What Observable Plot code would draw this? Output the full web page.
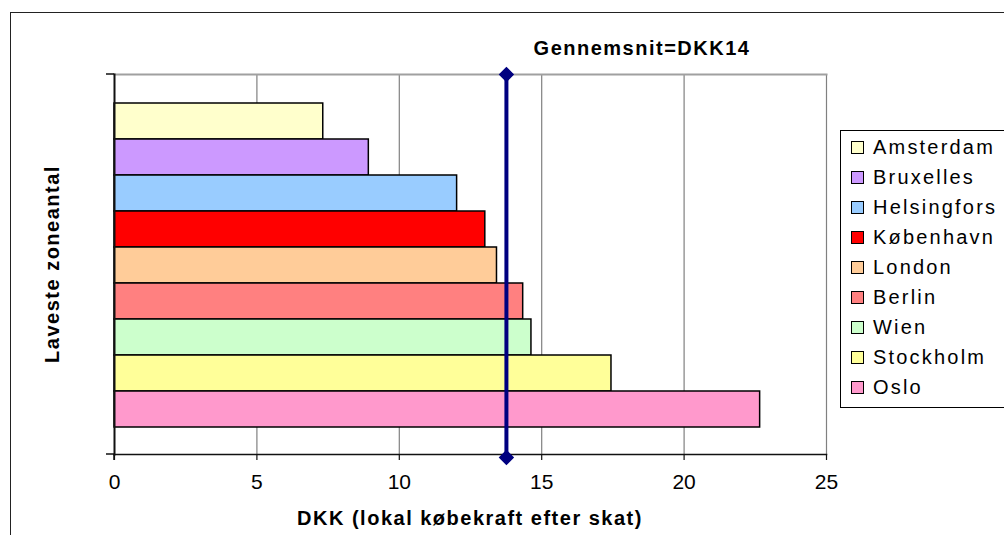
<!DOCTYPE html>
<html>
<head>
<meta charset="utf-8">
<script src="https://cdn.jsdelivr.net/npm/d3@7"></script>
<script src="https://cdn.jsdelivr.net/npm/@observablehq/plot@0.6"></script>
<style>
  html, body { margin: 0; padding: 0; background: #fff; }
  #wrap { position: relative; width: 1004px; height: 535px; overflow: hidden; font-family: "Liberation Sans", Arial, sans-serif; color: #000; }
  #border { position: absolute; left: 10px; top: 12px; width: 2000px; height: 2000px; border-left: 1.5px solid #222; border-top: 1.5px solid #222; box-sizing: border-box; }
  #chart { position: absolute; left: 0; top: 0; }
  .title { position: absolute; font-weight: bold; font-size: 20px; letter-spacing: 1.5px; white-space: nowrap; line-height: 1; }
  #avgTitle { left: 642px; top: 38px; transform: translateX(-50%); }
  #xTitle { left: 470px; top: 508px; transform: translateX(-50%); }
  #yTitle { left: 52px; top: 264px; transform: translate(-50%, -50%) rotate(-90deg); }
  #legend { position: absolute; left: 840px; top: 130px; width: 400px; height: 278px; border: 1.5px solid #000; box-sizing: border-box; background: #fff; padding-top: 1px; }
  .row { height: 30px; display: flex; align-items: center; font-size: 20px; letter-spacing: 2.2px; white-space: nowrap; }
  .sw { width: 11px; height: 11px; border: 1.5px solid #000; margin-left: 10px; margin-right: 9px; flex: none; }
</style>
</head>
<body>
<div id="wrap">
  <div id="border"></div>
  <div id="chart"></div>
  <div id="avgTitle" class="title"></div>
  <div id="xTitle" class="title"></div>
  <div id="yTitle" class="title"></div>
  <div id="legend"></div>
</div>
<script>
const cities = ["Amsterdam", "Bruxelles", "Helsingfors", "København", "London", "Berlin", "Wien", "Stockholm", "Oslo"];
const values = [7.33, 8.93, 12.03, 13.02, 13.43, 14.35, 14.64, 17.45, 22.67];
const colors = ["#FFFFCC", "#CC99FF", "#99CCFF", "#FF0000", "#FFCC99", "#FF8080", "#CCFFCC", "#FFFF99", "#FF99CC"];
const xTicks = [0, 5, 10, 15, 20, 25];
const gridTicks = [5, 10, 15, 20, 25];
const avgLabel = "Gennemsnit=DKK14";
const xLabel = "DKK (lokal købekraft efter skat)";
const yLabel = "Laveste zoneantal";

const data = cities.map((c, i) => ({city: c, value: values[i], color: colors[i]}));
const avg = d3.mean(values);

function categoryTicks(index, scales, vals, dims) {
  const {marginLeft, marginTop, height, marginBottom} = dims;
  const g = d3.create("svg:g").attr("stroke", "#111").attr("stroke-width", 1.5);
  [marginTop, height - marginBottom].forEach(y => {
    g.append("line").attr("x1", marginLeft - 8).attr("x2", marginLeft).attr("y1", y).attr("y2", y);
  });
  g.append("line").attr("x1", marginLeft).attr("x2", marginLeft)
    .attr("y1", height - marginBottom).attr("y2", height - marginBottom + 6);
  return g.node();
}

const chart = Plot.plot({
  width: 1004,
  height: 535,
  marginLeft: 114,
  marginRight: 178,
  marginTop: 74,
  marginBottom: 81,
  style: {fontFamily: "'Liberation Sans', Arial, sans-serif", background: "transparent", overflow: "visible"},
  x: {domain: [0, 25]},
  y: {domain: cities, paddingInner: 0, paddingOuter: 0.736, align: 0.52, axis: null},
  marks: [
    Plot.ruleX(gridTicks, {stroke: "#808080", strokeWidth: 1.2}),
    Plot.frame({anchor: "top", stroke: "#a0a0a0", strokeWidth: 2}),
    Plot.barX(data, {x: "value", y: "city", fill: "color", stroke: "#000", strokeWidth: 1.5}),
    Plot.frame({anchor: "left", stroke: "#111", strokeWidth: 2}),
    Plot.frame({anchor: "bottom", stroke: "#111", strokeWidth: 1.5}),
    categoryTicks,
    Plot.axisX({ticks: xTicks, tickSize: 6, tickPadding: 14, fontSize: 21, label: null, stroke: "#111", strokeWidth: 1.2}),
    Plot.ruleX([avg], {stroke: "#000080", strokeWidth: 4}),
    Plot.dot([avg], {x: d => d, frameAnchor: "top", symbol: "diamond2", r: 6, fill: "#000080", stroke: "#000080"}),
    Plot.dot([avg], {x: d => d, frameAnchor: "bottom", dy: 3, symbol: "diamond2", r: 6, fill: "#000080", stroke: "#000080"})
  ]
});
document.getElementById("chart").appendChild(chart);

document.getElementById("avgTitle").textContent = avgLabel;
document.getElementById("xTitle").textContent = xLabel;
document.getElementById("yTitle").textContent = yLabel;

const legend = document.getElementById("legend");
cities.forEach((c, i) => {
  const row = document.createElement("div");
  row.className = "row";
  const sw = document.createElement("div");
  sw.className = "sw";
  sw.style.background = colors[i];
  const t = document.createElement("span");
  t.textContent = c;
  row.appendChild(sw);
  row.appendChild(t);
  legend.appendChild(row);
});
</script>
</body>
</html>
